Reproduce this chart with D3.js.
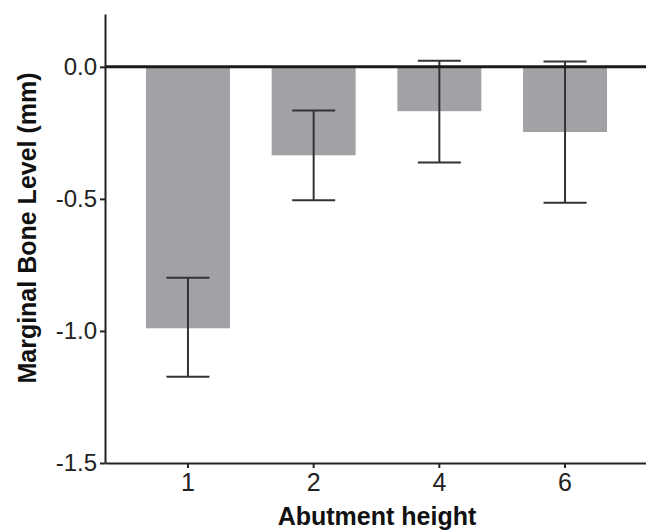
<!DOCTYPE html>
<html>
<head>
<meta charset="utf-8">
<script src="https://cdn.jsdelivr.net/npm/d3@7"></script>
<style>
  html, body { margin: 0; padding: 0; background: #fff; }
  svg { display: block; font-family: "Liberation Sans", Arial, sans-serif; }
</style>
</head>
<body>
<svg id="chart" width="646" height="531"></svg>
<script>
// Marginal bone level by abutment height (mean with error range)
const categories = ["1", "2", "4", "6"];
const means = [-0.99, -0.335, -0.168, -0.247];
const errLow = [-1.173, -0.505, -0.362, -0.515];
const errHigh = [-0.799, -0.165, 0.023, 0.020];
const yTicks = [0.0, -0.5, -1.0, -1.5];

const svg = d3.select("#chart");
const plotLeft = 105, plotRight = 648, plotTop = 14, plotBottom = 463;

const x = d3.scaleBand()
  .domain(categories)
  .range([plotLeft, plotRight])
  .paddingInner(0.332)
  .paddingOuter(0.326);

const y = d3.scaleLinear()
  .domain([-1.5, 0.2])
  .range([plotBottom, plotTop]);

// Bars hang down from zero
svg.append("g").selectAll("rect")
  .data(categories)
  .join("rect")
  .attr("x", d => x(d))
  .attr("width", x.bandwidth())
  .attr("y", y(0))
  .attr("height", (d, i) => y(means[i]) - y(0))
  .attr("fill", "#a1a2a5");

// Error bars
const eb = svg.append("g").attr("stroke", "#333").attr("stroke-width", 2);
const capHalf = 21.5;
categories.forEach((c, i) => {
  const cx = x(c) + x.bandwidth() / 2;
  eb.append("line").attr("x1", cx).attr("x2", cx)
    .attr("y1", y(errHigh[i])).attr("y2", y(errLow[i]));
  [errHigh[i], errLow[i]].forEach(v => {
    eb.append("line").attr("x1", cx - capHalf).attr("x2", cx + capHalf)
      .attr("y1", y(v)).attr("y2", y(v));
  });
});

// Zero reference line
svg.append("line")
  .attr("x1", plotLeft).attr("x2", 646)
  .attr("y1", y(0)).attr("y2", y(0))
  .attr("stroke", "#1a1a1a").attr("stroke-width", 3);

// Y axis
const yAxis = svg.append("g")
  .attr("transform", `translate(${plotLeft},0)`)
  .call(d3.axisLeft(y).tickValues(yTicks).tickFormat(d3.format(".1f")).tickSize(5).tickPadding(3).tickSizeOuter(0));
yAxis.select(".domain").attr("stroke", "#222").attr("stroke-width", 2);
yAxis.selectAll(".tick line").attr("stroke", "#222").attr("stroke-width", 2);
yAxis.selectAll(".tick text").attr("font-size", 24).attr("fill", "#222")
  .attr("font-family", "Liberation Sans, Arial, sans-serif")
  .text(d => d3.format(".1f")(d).replace("−", "-"));

// X axis
const xAxis = svg.append("g")
  .attr("transform", `translate(0,${plotBottom})`)
  .call(d3.axisBottom(x).tickSize(5).tickPadding(5).tickSizeOuter(0));
xAxis.select(".domain").attr("stroke", "#222").attr("stroke-width", 2);
xAxis.selectAll(".tick line").attr("stroke", "#222").attr("stroke-width", 2);
xAxis.selectAll(".tick text").attr("font-size", 25).attr("fill", "#222")
  .attr("font-family", "Liberation Sans, Arial, sans-serif");

// Axis titles
svg.append("text")
  .attr("x", 377).attr("y", 525)
  .attr("text-anchor", "middle")
  .attr("font-size", 25).attr("font-weight", "bold").attr("fill", "#111")
  .text("Abutment height");

svg.append("text")
  .attr("transform", "translate(36,228) rotate(-90)")
  .attr("text-anchor", "middle")
  .attr("font-size", 25).attr("font-weight", "bold").attr("fill", "#111")
  .text("Marginal Bone Level (mm)");
</script>
</body>
</html>
